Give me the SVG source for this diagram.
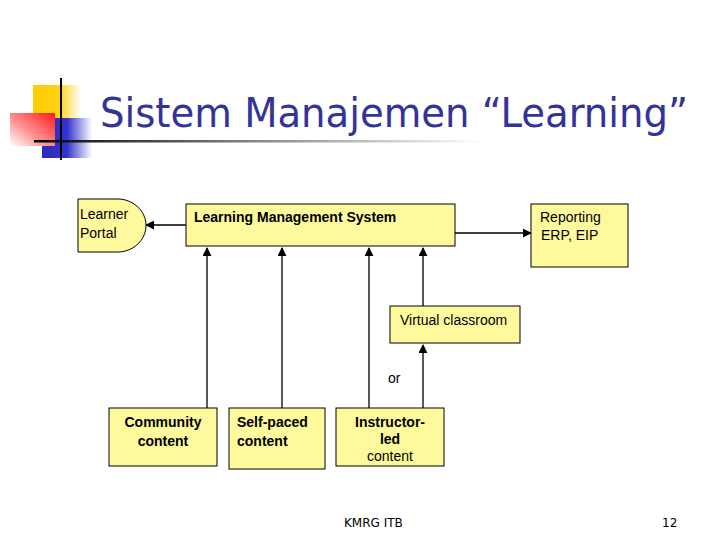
<svg xmlns="http://www.w3.org/2000/svg" width="720" height="540" viewBox="0 0 720 540">
<defs>
<linearGradient id="gY" x1="0" y1="0" x2="1" y2="0"><stop offset="0" stop-color="#FFCC00"/><stop offset="0.55" stop-color="#FFD21A"/><stop offset="1" stop-color="#FFFFFF"/></linearGradient>
<linearGradient id="gB" x1="0" y1="0" x2="1" y2="0"><stop offset="0" stop-color="#2B2BB8"/><stop offset="0.5" stop-color="#3333CC"/><stop offset="1" stop-color="#FFFFFF"/></linearGradient>
<linearGradient id="gR" x1="1" y1="0" x2="0" y2="1"><stop offset="0" stop-color="#FF1A1A"/><stop offset="0.6" stop-color="#FF9999"/><stop offset="1" stop-color="#FFFFFF"/></linearGradient>
<linearGradient id="gL" x1="0" y1="0" x2="1" y2="0"><stop offset="0" stop-color="#000000"/><stop offset="0.5" stop-color="#888888"/><stop offset="1" stop-color="#FFFFFF"/></linearGradient>
<marker id="ah" viewBox="0 0 10 10" refX="9" refY="5" markerWidth="9" markerHeight="9" orient="auto" markerUnits="userSpaceOnUse"><path d="M0,0 L10,5 L0,10 z" fill="#000"/></marker>
<style>
.box{fill:#FFF99D;stroke:#000;stroke-width:1}
.lbl{font-family:"Liberation Sans",Arial,sans-serif;font-size:14px;fill:#000}
.b{font-weight:bold}
.conn{stroke:#000;stroke-width:1.3;fill:none;marker-end:url(#ah)}
</style>
</defs>
<rect width="720" height="540" fill="#fff"/>
<g id="logo">
<rect x="33" y="85" width="48" height="34" fill="url(#gY)"/>
<rect x="42" y="118" width="50" height="40" fill="url(#gB)"/>
<rect x="10" y="113" width="45" height="33" fill="url(#gR)"/>
<line x1="61" y1="78" x2="61" y2="160" stroke="#000" stroke-width="2"/>
<rect x="34" y="140" width="450" height="2.5" fill="url(#gL)"/>
</g>
<text x="100" y="127" font-family="'DejaVu Sans Condensed','DejaVu Sans',Tahoma,sans-serif" font-size="41" fill="#333399" textLength="588" lengthAdjust="spacingAndGlyphs">Sistem Manajemen “Learning”</text>
<g id="connectors">
<line class="conn" x1="186" y1="225" x2="146" y2="225"/>
<line class="conn" x1="455" y1="233" x2="531" y2="233"/>
<line class="conn" x1="207" y1="408" x2="207" y2="248"/>
<line class="conn" x1="282" y1="408" x2="282" y2="248"/>
<line class="conn" x1="369" y1="408" x2="369" y2="248"/>
<line class="conn" x1="423" y1="306" x2="423" y2="248"/>
<line class="conn" x1="423" y1="408" x2="423" y2="345"/>
</g>
<g id="lms">
<rect class="box" x="186" y="204" width="269" height="42"/>
<text class="lbl b" x="194" y="222">Learning Management System</text>
</g>
<g id="portal">
<path class="box" d="M78,199 L118,199 C132,199 146,210 146,225.5 C146,241 132,252 118,252 L78,252 Z"/>
<text class="lbl" x="80" y="219">Learner</text>
<text class="lbl" x="80" y="238">Portal</text>
</g>
<g id="reporting">
<rect class="box" x="531" y="204" width="97" height="63"/>
<text class="lbl" x="540" y="222" fill="#222">Reporting</text>
<text class="lbl" x="541" y="240" fill="#222">ERP, EIP</text>
</g>
<g id="virtual">
<rect class="box" x="390" y="306" width="130" height="37"/>
<text class="lbl" x="400" y="325">Virtual classroom</text>
</g>
<text class="lbl" x="388" y="383">or</text>
<g id="community">
<rect class="box" x="109" y="408" width="108" height="58"/>
<text class="lbl b" x="163" y="427" text-anchor="middle">Community</text>
<text class="lbl b" x="163" y="446" text-anchor="middle">content</text>
</g>
<g id="selfpaced">
<rect class="box" x="229" y="408" width="96" height="61"/>
<text class="lbl b" x="237" y="427">Self-paced</text>
<text class="lbl b" x="237" y="446">content</text>
</g>
<g id="instructor">
<rect class="box" x="336" y="408" width="108" height="58"/>
<text class="lbl b" x="390" y="427" text-anchor="middle">Instructor-</text>
<text class="lbl b" x="390" y="444" text-anchor="middle">led</text>
<text class="lbl" x="390" y="461" text-anchor="middle">content</text>
</g>
<text x="344" y="527" font-family="'DejaVu Sans',Tahoma,sans-serif" font-size="12" fill="#000">KMRG ITB</text>
<text x="662" y="527" font-family="'DejaVu Sans',Tahoma,sans-serif" font-size="12" fill="#000">12</text>
</svg>
